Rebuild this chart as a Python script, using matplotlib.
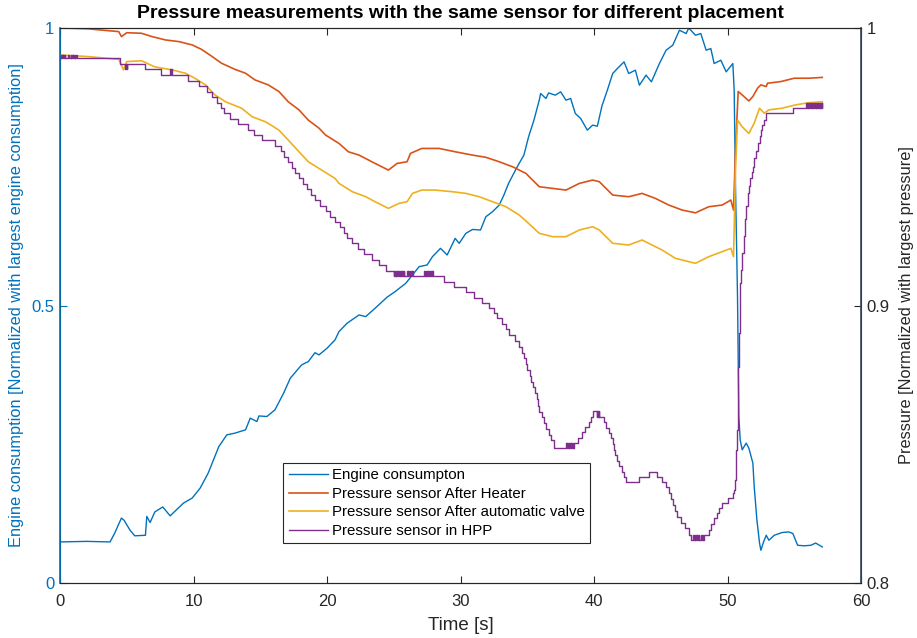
import numpy as np
import matplotlib.pyplot as plt

plt.rcParams['font.family'] = ['Liberation Sans', 'DejaVu Sans']

# Engine consumption (left axis, normalized)
t_eng = [0, 2, 3.75, 4.1, 4.6, 4.8, 5.25, 5.6, 6.4, 6.5, 6.75, 7.1, 7.7, 8.25, 9.25, 9.9,
         10.5, 11.1, 11.9, 12.5, 13.1, 13.9, 14.25, 14.75, 14.9, 15.5, 16.1, 16.75, 17.25,
         18.1, 18.6, 19.1, 19.4, 20.0, 20.6, 20.9, 21.5, 22.4, 22.9, 23.6, 24.5, 25.1, 25.9,
         26.9, 27.5, 27.9, 28.5, 29.0, 29.6, 29.9, 30.4, 30.9, 31.5, 31.9, 32.4, 32.9, 33.25,
         33.6, 34.25, 34.75, 35.1, 35.5, 35.9, 36.0, 36.4, 36.6, 37.1, 37.5, 37.9, 38.25,
         38.6, 39.0, 39.5, 39.9, 40.25, 40.6, 41.0, 41.4, 41.75, 42.25, 42.6, 43.1, 43.4,
         43.9, 44.3, 44.9, 45.4, 45.9, 46.4, 46.9, 47.1, 47.6, 48.0, 48.4, 48.75, 49.0, 49.5,
         49.9, 50.1, 50.4, 50.5, 50.6, 50.75, 50.85, 50.95, 51.1, 51.4, 51.6, 51.9, 52.0,
         52.2, 52.4, 52.5, 52.7, 52.9, 53.1, 53.5, 54.1, 54.6, 54.9, 55.25, 55.75, 56.25,
         56.6, 57.1]
engine = [0.074, 0.075, 0.074, 0.09, 0.117, 0.113, 0.095, 0.085, 0.086, 0.12, 0.109, 0.128,
          0.137, 0.121, 0.144, 0.153, 0.171, 0.198, 0.246, 0.267, 0.27, 0.276, 0.297, 0.291,
          0.301, 0.300, 0.312, 0.342, 0.369, 0.393, 0.399, 0.415, 0.411, 0.423, 0.438, 0.453,
          0.468, 0.483, 0.48, 0.495, 0.515, 0.525, 0.54, 0.57, 0.573, 0.588, 0.603, 0.591,
          0.621, 0.612, 0.63, 0.637, 0.636, 0.66, 0.669, 0.681, 0.699, 0.72, 0.75, 0.771,
          0.804, 0.834, 0.87, 0.882, 0.873, 0.883, 0.879, 0.885, 0.87, 0.873, 0.846, 0.837,
          0.816, 0.825, 0.823, 0.86, 0.888, 0.918, 0.927, 0.939, 0.918, 0.924, 0.897, 0.915,
          0.903, 0.936, 0.96, 0.969, 0.996, 0.99, 1.0, 0.987, 0.99, 0.96, 0.963, 0.936, 0.942,
          0.921, 0.927, 0.936, 0.888, 0.714, 0.516, 0.3, 0.258, 0.24, 0.252, 0.243, 0.216,
          0.174, 0.114, 0.072, 0.059, 0.074, 0.086, 0.077, 0.086, 0.091, 0.092, 0.089, 0.068,
          0.067, 0.068, 0.072, 0.065]

# Pressure after heater (right axis)
t_heat = [0, 2.1, 4.4, 4.6, 5.0, 6.1, 6.9, 7.9, 8.9, 9.9, 10.6, 11.4, 12.1, 13.1, 13.9, 14.6,
          15.6, 16.4, 17.1, 17.9, 18.6, 19.4, 19.9, 20.9, 21.6, 22.4, 23.6, 24.6, 25.25, 26.0,
          26.25, 27.1, 28.4, 29.6, 30.9, 31.9, 32.9, 33.9, 34.9, 35.9, 36.9, 37.9, 38.9, 39.9,
          40.4, 40.9, 41.4, 42.6, 43.6, 44.6, 45.6, 46.6, 47.6, 48.6, 49.6, 50.25, 50.45, 50.6,
          50.8, 51.1, 51.6, 51.9, 52.25, 52.5, 52.9, 53.0, 54.0, 55.0, 56.1, 57.1]
heater = [1.0, 0.9997, 0.9987, 0.9969, 0.9983, 0.9981, 0.9969, 0.9957, 0.9951, 0.9939, 0.9923,
          0.9897, 0.9873, 0.9851, 0.9837, 0.9813, 0.9795, 0.9771, 0.9734, 0.9705, 0.9668,
          0.9639, 0.9614, 0.9584, 0.9554, 0.9542, 0.9512, 0.9488, 0.9512, 0.9518, 0.9548,
          0.9566, 0.9566, 0.9554, 0.9542, 0.9534, 0.9518, 0.95, 0.9476, 0.9428, 0.9422,
          0.9416, 0.944, 0.9452, 0.9446, 0.9422, 0.9398, 0.9392, 0.9404, 0.9386, 0.9362,
          0.9344, 0.9334, 0.9356, 0.9362, 0.938, 0.9344, 0.956, 0.9771, 0.9759, 0.9737,
          0.9753, 0.9783, 0.9795, 0.9789, 0.9801, 0.9807, 0.9819, 0.9819, 0.9822]

# Pressure after automatic valve
t_valve = [0, 2.1, 4.4, 4.75, 5.0, 6.1, 7.1, 8.4, 9.4, 10.1, 10.9, 11.6, 12.4, 13.6, 14.4,
           15.4, 16.4, 17.1, 17.9, 18.6, 19.6, 20.6, 20.9, 21.9, 22.9, 23.6, 24.6, 25.4, 26.0,
           26.4, 27.1, 28.1, 29.4, 30.4, 31.4, 32.4, 33.4, 34.4, 35.1, 35.9, 36.9, 37.9, 38.9,
           39.9, 40.4, 40.9, 41.4, 42.6, 43.6, 45.1, 46.1, 47.6, 48.6, 49.6, 50.25, 50.45,
           50.6, 50.75, 51.1, 51.6, 52.0, 52.4, 52.75, 53.1, 54.1, 55.1, 56.1, 57.1]
valve = [0.9903, 0.9897, 0.9887, 0.9849, 0.9879, 0.9882, 0.986, 0.9849, 0.9837, 0.9819,
         0.9795, 0.9759, 0.9734, 0.9711, 0.968, 0.9662, 0.9632, 0.9596, 0.9554, 0.9518,
         0.9488, 0.9458, 0.944, 0.941, 0.9392, 0.9374, 0.935, 0.9368, 0.9374, 0.9404, 0.9416,
         0.9416, 0.941, 0.9404, 0.9392, 0.9374, 0.9356, 0.9326, 0.9296, 0.926, 0.9248, 0.9248,
         0.9272, 0.9284, 0.9272, 0.9248, 0.9224, 0.9218, 0.9236, 0.92, 0.917, 0.9152, 0.9176,
         0.9194, 0.9206, 0.9176, 0.9488, 0.9668, 0.9644, 0.962, 0.9657, 0.9711, 0.9693,
         0.9705, 0.9711, 0.9723, 0.9731, 0.9734]

# Pressure in HPP (quantized sensor, drawn as steps; flicker between two levels in places)
t_hpp = [0, 0.05, 0.1, 0.15, 0.2, 0.25, 0.3, 0.35, 0.4, 0.6, 0.65,
         0.8, 0.85, 0.9, 0.95, 1.0, 1.05, 1.1, 1.15, 1.2, 1.25,
         4.5, 4.9, 4.95, 5.0, 5.05, 6.4, 7.6, 8.25, 8.3, 8.35, 8.4,
         9.6, 10.4, 11.0, 11.4, 11.75, 12.05, 12.3, 12.75, 13.3, 14.1, 14.55, 15.1, 16.1,
         16.55, 16.8, 17.1, 17.4, 17.6, 17.9, 18.2, 18.5, 18.8, 19.1, 19.5, 19.9, 20.25,
         20.6, 21.0, 21.25, 21.5, 21.9, 22.3, 22.8, 23.4, 23.9, 24.4,
         25.0, 25.05, 25.1, 25.15, 25.2, 25.25, 25.3, 25.35, 25.4, 25.45, 25.5, 25.55,
         25.6, 25.65, 25.7, 25.75, 25.8,
         26.0, 26.05, 26.1, 26.15, 26.2, 26.25, 26.3, 26.35, 26.4, 26.45,
         27.3, 27.35, 27.4, 27.45, 27.5, 27.55, 27.6, 27.65, 27.7, 27.75, 27.8, 27.85,
         27.9, 27.95,
         28.75, 29.5, 30.4, 31.0, 31.6, 32.1, 32.5, 32.75, 33.1, 33.4, 33.6, 34.1, 34.4,
         34.6, 34.75, 34.9, 35.0, 35.2, 35.3, 35.4, 35.6, 35.7, 35.8, 35.9, 36.1, 36.25,
         36.4, 36.6, 36.8, 37.0,
         37.9, 37.95, 38.0, 38.05, 38.1, 38.15, 38.2, 38.25, 38.3, 38.35, 38.4, 38.45,
         38.5, 38.8, 39.1, 39.3, 39.6, 39.75, 39.9,
         40.2, 40.25, 40.3, 40.35, 40.4,
         40.75, 40.9, 41.1, 41.25, 41.4, 41.5, 41.6, 41.75, 41.9, 42.1, 42.25, 42.4,
         43.4, 44.1, 44.7, 45.1, 45.4, 45.6, 45.75, 45.9, 46.1, 46.25, 46.5, 46.8, 47.1,
         47.3, 47.45, 47.5, 47.55, 47.6, 47.65, 47.7, 47.75, 47.8, 47.85, 47.9, 48.05,
         48.1, 48.15, 48.2, 48.25,
         48.6, 48.8, 49.0, 49.2, 49.4, 49.6, 50.0, 50.4, 50.5, 50.55, 50.6, 50.65, 50.7,
         50.75, 50.8, 50.85, 50.9, 50.95, 51.0, 51.1, 51.2, 51.3, 51.4, 51.5, 51.6, 51.7,
         51.8, 51.9, 52.0, 52.1, 52.25, 52.4, 52.5, 52.6, 52.75, 52.9, 54.9,
         55.9, 55.95, 56.0, 56.05, 56.1, 56.15, 56.2, 56.25, 56.3, 56.35, 56.4, 56.45,
         56.5, 56.55, 56.6, 56.65, 56.7, 56.75, 56.8, 56.85, 56.9, 56.95, 57.0, 57.05, 57.1]
hpp = [0.9891, 0.9903, 0.9891, 0.9903, 0.9891, 0.9903, 0.9891, 0.9903, 0.9891, 0.9903, 0.9891,
       0.9903, 0.9891, 0.9903, 0.9891, 0.9903, 0.9891, 0.9903, 0.9891, 0.9903, 0.9891,
       0.987, 0.9851, 0.987, 0.9851, 0.987, 0.9851, 0.9831, 0.9851, 0.9831, 0.9851, 0.9831,
       0.981, 0.9791, 0.977, 0.9752, 0.9731, 0.971, 0.9693, 0.9672, 0.9653, 0.9632, 0.9614,
       0.9596, 0.9575, 0.9557, 0.9536, 0.9516, 0.9497, 0.9476, 0.9458, 0.9438, 0.9419,
       0.9398, 0.938, 0.936, 0.9341, 0.932, 0.9302, 0.9282, 0.9262, 0.9242, 0.9224, 0.9204,
       0.9184, 0.9164, 0.9146, 0.9125,
       0.9106, 0.9125, 0.9106, 0.9125, 0.9106, 0.9125, 0.9106, 0.9125, 0.9106, 0.9125,
       0.9106, 0.9125, 0.9106, 0.9125, 0.9106, 0.9125, 0.9106,
       0.9125, 0.9106, 0.9125, 0.9106, 0.9125, 0.9106, 0.9125, 0.9106, 0.9125, 0.9106,
       0.9125, 0.9106, 0.9125, 0.9106, 0.9125, 0.9106, 0.9125, 0.9106, 0.9125, 0.9106,
       0.9125, 0.9106, 0.9125, 0.9106,
       0.9086, 0.9068, 0.9048, 0.9028, 0.9008, 0.899, 0.8972, 0.8954, 0.8933, 0.8914,
       0.8894, 0.8873, 0.8852, 0.883, 0.881, 0.8789, 0.8768, 0.8746, 0.8725, 0.8705,
       0.8684, 0.8662, 0.8638, 0.8617, 0.8597, 0.8575, 0.8554, 0.8533, 0.8515, 0.8486,
       0.8505, 0.8486, 0.8505, 0.8486, 0.8505, 0.8486, 0.8505, 0.8486, 0.8505, 0.8486,
       0.8505, 0.8486,
       0.8505, 0.8524, 0.8543, 0.8562, 0.8581, 0.86, 0.862,
       0.86, 0.862, 0.86, 0.862, 0.86,
       0.8581, 0.8557, 0.8539, 0.8521, 0.8501, 0.8479, 0.8461, 0.8441, 0.8422,
       0.8401, 0.8383, 0.8365,
       0.8383, 0.8401, 0.8383, 0.8365, 0.8345, 0.8323, 0.8302, 0.8281, 0.826, 0.8239,
       0.8217, 0.8197, 0.8173,
       0.8155, 0.8173, 0.8155, 0.8173, 0.8155, 0.8173, 0.8155, 0.8173, 0.8155, 0.8173,
       0.8155, 0.8173, 0.8155, 0.8173, 0.8155, 0.8173,
       0.8191, 0.8213, 0.8233, 0.8251, 0.8269, 0.8287, 0.8305, 0.8323, 0.8335, 0.837,
       0.8419, 0.848, 0.855, 0.866, 0.878, 0.89, 0.902, 0.908, 0.9128, 0.919, 0.925,
       0.931, 0.936, 0.9404, 0.943, 0.946, 0.948, 0.95, 0.953, 0.9555, 0.9584, 0.961,
       0.9632, 0.965, 0.9668, 0.9693, 0.9711,
       0.9729, 0.9711, 0.9729, 0.9711, 0.9729, 0.9711, 0.9729, 0.9711, 0.9729, 0.9711,
       0.9729, 0.9711, 0.9729, 0.9711, 0.9729, 0.9711, 0.9729, 0.9711, 0.9729, 0.9711,
       0.9729, 0.9711, 0.9729, 0.9711, 0.9729]

c_blue = '#0072BD'
c_orange = '#D95319'
c_yellow = '#EDB120'
c_purple = '#7E2F8E'
c_dark = '#262626'

fig = plt.figure(figsize=(9.17, 6.38), dpi=100)
ax1 = fig.add_axes([60/917, 55/638, 801/917, 555/638])
ax2 = ax1.twinx()

l1, = ax1.plot(t_eng, engine, color=c_blue, lw=1.0, label='Engine consumpton')
l2, = ax2.plot(t_heat, heater, color=c_orange, lw=1.2, label='Pressure sensor After Heater')
l3, = ax2.plot(t_valve, valve, color=c_yellow, lw=1.2, label='Pressure sensor After automatic valve')
l4, = ax2.plot(t_hpp, hpp, color=c_purple, lw=1.0, drawstyle='steps-post',
               label='Pressure sensor in HPP')

ax1.set_xlim(0, 60)
ax1.set_ylim(0, 1)
ax2.set_ylim(0.8, 1)
ax1.set_xticks(np.arange(0, 61, 10))
ax1.set_yticks([0, 0.5, 1])
ax1.set_yticklabels(['0', '0.5', '1'])
ax2.set_yticks([0.8, 0.9, 1])
ax2.set_yticklabels(['0.8', '0.9', '1'])

ax1.tick_params(axis='x', direction='in', top=True, length=5, width=0.8,
                colors=c_dark, labelsize=12, pad=8)
ax1.tick_params(axis='y', direction='in', length=5, width=0.8, colors=c_blue,
                labelsize=12, pad=4)
ax2.tick_params(axis='y', direction='in', length=5, width=0.8, colors=c_dark,
                labelsize=12, pad=4)

for ax in (ax1, ax2):
    for s in ax.spines.values():
        s.set_color(c_dark)
        s.set_linewidth(0.8)
ax2.spines['left'].set_color(c_blue)
ax2.spines['left'].set_linewidth(1.2)
ax2.spines['right'].set_color('#33475b')
ax2.spines['right'].set_linewidth(1.2)

ax1.set_xlabel('Time [s]', fontsize=13.5, color=c_dark, labelpad=6)
ax1.set_ylabel('Engine consumption [Normalized with largest engine consumption]',
               fontsize=11.8, color=c_blue, labelpad=5)
ax2.set_ylabel('Pressure [Normalized with largest pressure]', fontsize=11.8,
               color=c_dark, labelpad=7)
ax1.set_title('Pressure measurements with the same sensor for different placement',
              fontsize=14, fontweight='bold', pad=7)

leg = ax2.legend(handles=[l1, l2, l3, l4], loc='lower left',
                 bbox_to_anchor=(0.279, 0.072), fontsize=10.8, fancybox=False,
                 framealpha=1, edgecolor=c_dark, handlelength=2.6,
                 borderpad=0.35, labelspacing=0.3, handletextpad=0.3,
                 borderaxespad=0)
leg.get_frame().set_linewidth(0.8)

fig.savefig('out.png', dpi=100)
